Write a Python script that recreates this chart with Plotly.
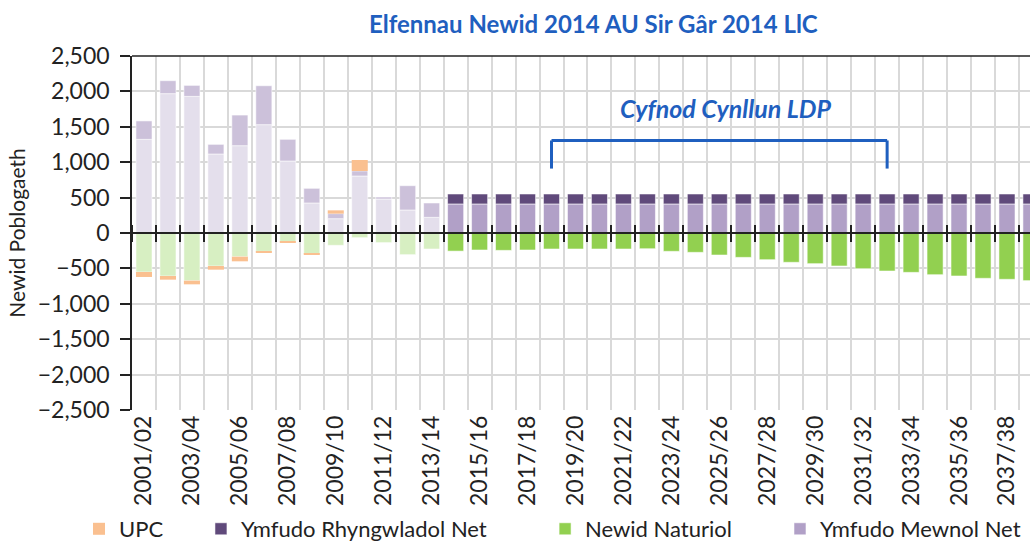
import plotly.graph_objects as go

categories = ["2001/02", "2002/03", "2003/04", "2004/05", "2005/06", "2006/07", "2007/08",
              "2008/09", "2009/10", "2010/11", "2011/12", "2012/13", "2013/14", "2014/15",
              "2015/16", "2016/17", "2017/18", "2018/19", "2019/20", "2020/21", "2021/22",
              "2022/23", "2023/24", "2024/25", "2025/26", "2026/27", "2027/28", "2028/29",
              "2029/30", "2030/31", "2031/32", "2032/33", "2033/34", "2034/35", "2035/36",
              "2036/37", "2037/38", "2038/39"]

# first 13 years are historic (lighter tints), the rest are projections
n_hist = 13

ymfudo_mewnol = [1323, 1968, 1930, 1116, 1233, 1530, 1017, 424, 202, 805, 480, 325, 221,
                 410, 410, 410, 410, 410, 410, 410, 410, 410, 410, 410, 410, 410,
                 410, 410, 410, 410, 410, 410, 410, 410, 410, 410, 410, 410]
ymfudo_rhyngwladol = [260, 183, 155, 136, 433, 550, 306, 207, 71, 71, 28, 343, 203,
                      141, 141, 141, 141, 141, 141, 141, 141, 141, 141, 141, 141, 141,
                      141, 141, 141, 141, 141, 141, 141, 141, 141, 141, 141, 141]
newid_naturiol = [-551, -607, -673, -466, -334, -259, -122, -292, -174, -66, -136, -306, -226,
                  -256, -240, -245, -240, -226, -226, -226, -226, -222, -259, -273, -311,
                  -344, -377, -414, -433, -466, -504, -537, -556, -589, -607, -640, -654, -673]
upc = [-70, -52, -52, -52, -66, -19, -19, -19, 47, 155, 0, 0, 0,
       0, 0, 0, 0, 0, 0, 0, 0, 0, 0, 0, 0, 0, 0, 0, 0, 0, 0, 0, 0, 0, 0, 0, 0, 0]

names = {"upc": "UPC", "rhyng": "Ymfudo Rhyngwladol Net",
         "nat": "Newid Naturiol", "mewnol": "Ymfudo Mewnol Net"}

ldp_start, ldp_end = "2018/19", "2032/33"
ldp_label = "Cyfnod Cynllun LDP"
title_text = "Elfennau Newid 2014 AU Sir Gâr 2014 LlC"
y_title = "Newid Poblogaeth"

FONT = "Lato"
BLUE = "#1F5FBF"
INK = "#222222"
edge = dict(width=1, color="rgba(255,255,255,0.55)")

fig = go.Figure()

def add_series(vals, name, c_hist, c_proj, legend):
    fig.add_trace(go.Bar(x=categories[:n_hist], y=vals[:n_hist], name=name,
                         marker=dict(color=c_hist, line=edge), showlegend=False,
                         legendgroup=name))
    fig.add_trace(go.Bar(x=categories[n_hist:], y=vals[n_hist:], name=name,
                         marker=dict(color=c_proj, line=edge), showlegend=True,
                         legendgroup=name, legend=legend))

add_series(ymfudo_mewnol, names["mewnol"], "#E4DFEC", "#B1A0C7", "legend4")
add_series(ymfudo_rhyngwladol, names["rhyng"], "#CCC1DA", "#604A7B", "legend2")
add_series(newid_naturiol, names["nat"], "#D7EFC2", "#92D050", "legend3")
fig.add_trace(go.Bar(x=categories, y=upc, name=names["upc"],
                     marker=dict(color="#FAC090", line=dict(width=0)), legend="legend"))

# empty helper traces so the zero-line axes (x2 below, x3 above) are drawn
for ax in ("x2", "x3"):
    fig.add_trace(go.Scatter(x=[None], y=[None], xaxis=ax, yaxis="y", mode="markers",
                             showlegend=False, hoverinfo="skip"))

x_range = [-0.5, 36.96]
tick_text = [c if i % 2 == 0 else "" for i, c in enumerate(categories)]

i0 = categories.index(ldp_start)
i1 = categories.index(ldp_end)
br_top, br_bot = 1307, 910

shapes = [
    dict(type="line", xref="paper", yref="paper", x0=0, x1=1, y0=1, y1=1,
         line=dict(color=INK, width=1.5)),
    dict(type="line", xref="x", yref="y", x0=i0, x1=i1, y0=br_top, y1=br_top,
         line=dict(color=BLUE, width=3)),
    dict(type="line", xref="x", yref="y", x0=i0, x1=i0, y0=br_top, y1=br_bot,
         line=dict(color=BLUE, width=3)),
    dict(type="line", xref="x", yref="y", x0=i1, x1=i1, y0=br_top, y1=br_bot,
         line=dict(color=BLUE, width=3)),
]

leg_common = dict(orientation="h", yref="container", y=0.024, yanchor="middle",
                  xanchor="left", font=dict(family=FONT, size=22, color=INK),
                  bgcolor="rgba(0,0,0,0)", itemwidth=30, traceorder="normal")

zero_axis = dict(overlaying="x", anchor="free", position=0.5, range=x_range,
                 tick0=0.5, dtick=1, ticks="outside", ticklen=8, tickwidth=1.5,
                 tickcolor=INK, linecolor=INK, linewidth=1.5,
                 showticklabels=False, showgrid=False, zeroline=False, layer="above traces")

fig.update_layout(
    width=1030, height=542,
    barmode="relative", bargap=0.33,
    plot_bgcolor="white", paper_bgcolor="white",
    margin=dict(l=132, r=0, t=56, b=132, autoexpand=False),
    font=dict(family=FONT, color=INK),
    title=dict(text=title_text, xref="container", x=0.576, xanchor="center",
               yref="container", y=0.954, yanchor="middle",
               font=dict(family=FONT, size=24, color=BLUE, weight="bold")),
    xaxis=dict(type="category", categoryorder="array", categoryarray=categories,
               range=x_range, tickson="boundaries", tickmode="array",
               tickvals=categories, ticktext=tick_text, tickangle=-90,
               tickfont=dict(family=FONT, size=23, color=INK),
               showgrid=True, gridcolor="#D9D9D9", gridwidth=1.5,
               ticks="", showline=False, zeroline=False),
    xaxis2=dict(zero_axis, side="bottom", showline=True),
    xaxis3=dict(zero_axis, side="top", showline=False),
    yaxis=dict(range=[-2500, 2500], dtick=500, tickformat=",", showgrid=True,
               gridcolor="#D9D9D9", gridwidth=1.5, zeroline=False,
               showline=True, linecolor=INK, linewidth=1.5,
               ticks="outside", ticklen=10, tickwidth=1.5, tickcolor=INK,
               ticklabelstandoff=6,
               tickfont=dict(family=FONT, size=23, color=INK),
               title=dict(text=y_title, standoff=6,
                          font=dict(family=FONT, size=21, color=INK))),
    shapes=shapes,
    annotations=[dict(text=ldp_label, xref="x", yref="y", x=(i0 + i1) / 2, y=1770,
                      xshift=7, showarrow=False, xanchor="center", yanchor="middle",
                      font=dict(family=FONT, size=25, color=BLUE, weight="bold",
                                style="italic"))],
    legend=dict(leg_common, x=-0.059),
    legend2=dict(leg_common, x=0.0768),
    legend3=dict(leg_common, x=0.46),
    legend4=dict(leg_common, x=0.7216),
)

fig.write_html("out.html", config={"displayModeBar": False},
               post_script="document.body.style.margin='0px';")
